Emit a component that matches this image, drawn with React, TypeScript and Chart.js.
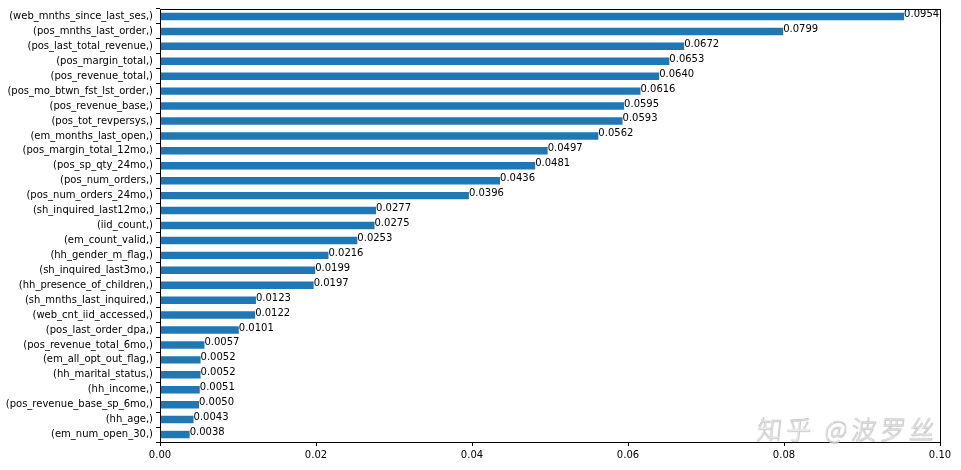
import React, { useEffect, useRef } from "react";
import { Chart, registerables } from "chart.js";

Chart.register(...registerables);

const features: string[] = [
  "(web_mnths_since_last_ses,)",
  "(pos_mnths_last_order,)",
  "(pos_last_total_revenue,)",
  "(pos_margin_total,)",
  "(pos_revenue_total,)",
  "(pos_mo_btwn_fst_lst_order,)",
  "(pos_revenue_base,)",
  "(pos_tot_revpersys,)",
  "(em_months_last_open,)",
  "(pos_margin_total_12mo,)",
  "(pos_sp_qty_24mo,)",
  "(pos_num_orders,)",
  "(pos_num_orders_24mo,)",
  "(sh_inquired_last12mo,)",
  "(iid_count,)",
  "(em_count_valid,)",
  "(hh_gender_m_flag,)",
  "(sh_inquired_last3mo,)",
  "(hh_presence_of_children,)",
  "(sh_mnths_last_inquired,)",
  "(web_cnt_iid_accessed,)",
  "(pos_last_order_dpa,)",
  "(pos_revenue_total_6mo,)",
  "(em_all_opt_out_flag,)",
  "(hh_marital_status,)",
  "(hh_income,)",
  "(pos_revenue_base_sp_6mo,)",
  "(hh_age,)",
  "(em_num_open_30,)",
];

const importance: number[] = [
  0.0954, 0.0799, 0.0672, 0.0653, 0.064, 0.0616, 0.0595, 0.0593, 0.0562,
  0.0497, 0.0481, 0.0436, 0.0396, 0.0277, 0.0275, 0.0253, 0.0216, 0.0199,
  0.0197, 0.0123, 0.0122, 0.0101, 0.0057, 0.0052, 0.0052, 0.0051, 0.005,
  0.0043, 0.0038,
];

const xTicks: number[] = [0, 0.02, 0.04, 0.06, 0.08, 0.1];
const watermark = "知乎 @波罗丝";

const FONT = "'DejaVu Sans', sans-serif";

const boxPlugin = {
  id: "boxAndLabels",
  afterDatasetsDraw(chart: any) {
    const { ctx, chartArea } = chart;
    const meta = chart.getDatasetMeta(0);
    ctx.save();
    ctx.font = `10px ${FONT}`;
    ctx.fillStyle = "#000";
    ctx.textAlign = "left";
    ctx.textBaseline = "alphabetic";
    meta.data.forEach((bar: any, i: number) => {
      ctx.fillText(importance[i].toFixed(4), bar.x, bar.y + 0.5);
    });
    ctx.strokeStyle = "#000";
    ctx.lineWidth = 1;
    ctx.strokeRect(
      Math.round(chartArea.left) + 0.5,
      Math.round(chartArea.top) + 0.5,
      Math.round(chartArea.right - chartArea.left),
      Math.round(chartArea.bottom - chartArea.top)
    );
    ctx.restore();
  },
};

export default function App() {
  const ref = useRef<HTMLCanvasElement | null>(null);
  useEffect(() => {
    if (!ref.current) return;
    const chart = new Chart(ref.current, {
      type: "bar",
      data: {
        labels: features,
        datasets: [
          {
            data: importance,
            backgroundColor: "#1f77b4",
            barPercentage: 0.5,
            categoryPercentage: 1,
          },
        ],
      },
      options: {
        indexAxis: "y",
        animation: false,
        responsive: false,
        maintainAspectRatio: false,
        layout: { padding: { top: 7, right: 21, left: 0, bottom: 0 } },
        plugins: { legend: { display: false }, tooltip: { enabled: false } },
        scales: {
          x: {
            type: "linear",
            min: 0,
            max: 0.1,
            afterBuildTicks: (axis: any) => {
              axis.ticks = xTicks.map((v) => ({ value: v }));
            },
            afterFit: (axis: any) => {
              axis.height = 28;
            },
            ticks: {
              color: "#000",
              font: { family: FONT, size: 10 },
              padding: 3,
              maxRotation: 0,
              callback: (v: any) => Number(v).toFixed(2),
            },
            grid: {
              display: true,
              drawOnChartArea: false,
              drawTicks: true,
              tickLength: 4,
              color: "#000",
            },
            border: { display: true, color: "#000" },
          },
          y: {
            afterFit: (axis: any) => {
              axis.width = 160;
            },
            ticks: {
              color: "#000",
              font: { family: FONT, size: 10 },
              padding: 3,
              autoSkip: false,
            },
            grid: {
              display: true,
              drawOnChartArea: false,
              drawTicks: true,
              tickLength: 4,
              color: "#000",
            },
            border: { display: true, color: "#000" },
          },
        },
      },
      plugins: [boxPlugin],
    });
    return () => chart.destroy();
  }, []);

  return (
    <div
      style={{
        position: "fixed",
        left: 0,
        top: 0,
        width: 961,
        height: 470,
        background: "#fff",
      }}
    >
      <canvas ref={ref} width={961} height={470} />
      <div
        style={{
          position: "absolute",
          left: 756,
          top: 414,
          fontFamily: "'Noto Sans CJK SC', sans-serif",
          fontWeight: 300,
          fontSize: 25,
          color: "rgba(255,255,255,0.9)",
          WebkitTextStroke: "0.6px #bdbdbd",
          textShadow: "0.5px 0.5px 0.5px rgba(140,140,140,0.3)",
          letterSpacing: 4,
          transform: "skewX(-6deg)",
          transformOrigin: "left bottom",
          whiteSpace: "nowrap",
          lineHeight: "28px",
        }}
      >
        {watermark}
      </div>
    </div>
  );
}
